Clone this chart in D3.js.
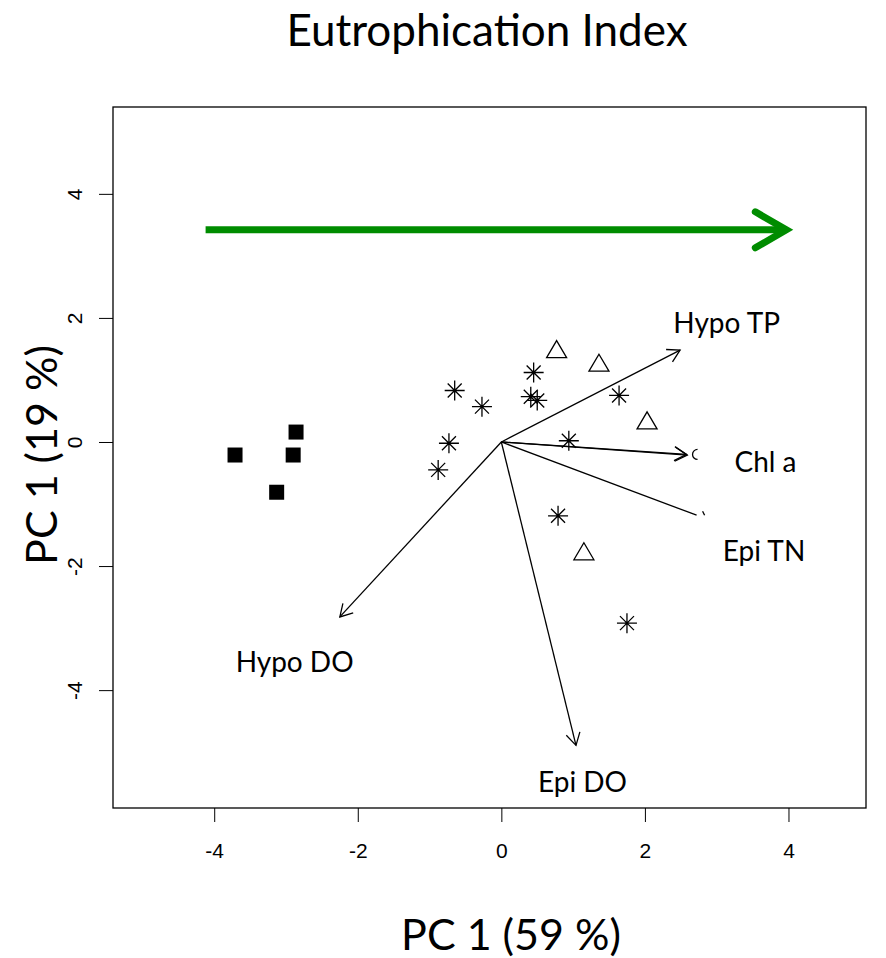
<!DOCTYPE html>
<html>
<head>
<meta charset="utf-8">
<script src="https://cdn.jsdelivr.net/npm/d3@7"></script>
<style>
  body { margin: 0; background: #fff; }
  svg { display: block; }
</style>
</head>
<body>
<div id="chart"></div>
<script>
// Site scores (PC1, PC2)
const squares = [[-3.71, -0.21], [-2.86, 0.16], [-2.90, -0.21], [-3.13, -0.81]];
const stars = [[-0.65, 0.83], [-0.27, 0.57], [0.45, 1.12], [0.41, 0.73], [0.50, 0.67],
               [1.64, 0.75], [-0.73, -0.02], [-0.88, -0.45], [0.94, 0.02], [0.79, -1.19], [1.75, -2.92]];
const triangles = [[0.77, 1.49], [1.36, 1.27], [2.03, 0.34], [1.15, -1.77]];

// Variable loadings (arrow tips) and where their labels sit
const loadingNames = ["Hypo TP", "Chl a", "Chl a", "Epi TN", "Epi DO", "Hypo DO"];
const loadingX = [2.49, 2.58, 2.59, 2.72, 1.04, -2.25];
const loadingY = [1.48, -0.20, -0.212, -1.18, -4.89, -2.82];
const loadingHead = [true, true, true, false, true, true];
const labelNames = ["Hypo TP", "Chl a", "Epi TN", "Epi DO", "Hypo DO"];
const labelX = [3.14, 3.68, 3.66, 1.13, -2.88];
const labelY = [1.94, -0.31, -1.74, -5.47, -3.53];

// gradient arrow across the top
const gradientFrom = [-4.12, 3.42];
const gradientTo = [3.97, 3.42];

const xTicks = [-4, -2, 0, 2, 4];
const yTicks = [-4, -2, 0, 2, 4];

const svgWidth = 886, svgHeight = 958;
const svg = d3.select("#chart").append("svg")
  .attr("width", svgWidth).attr("height", svgHeight);

// plot box
const box = {left: 113, right: 866, top: 107, bottom: 808};

const x = d3.scaleLinear().domain([-5.41, 5.08]).range([box.left, box.right]);
const y = d3.scaleLinear().domain([-5.90, 5.40]).range([box.bottom, box.top]);

const calib = "Lato, 'Open Sans', sans-serif";
const arial = "'Liberation Sans', Arial, sans-serif";

// title
svg.append("text")
  .attr("x", 487).attr("y", 46)
  .attr("text-anchor", "middle")
  .style("font-family", calib).style("font-size", "44px")
  .text("Eutrophication Index");

// axes
const xAxis = svg.append("g")
  .attr("transform", "translate(0," + box.bottom + ")")
  .call(d3.axisBottom(x).tickValues(xTicks).tickFormat(d => String(d))
    .tickSize(14).tickPadding(21).tickSizeOuter(0));
xAxis.select(".domain").remove();
xAxis.selectAll(".tick text")
  .attr("fill", "#000")
  .style("font-family", arial).style("font-size", "21px");

const yAxis = svg.append("g")
  .attr("transform", "translate(" + box.left + ",0)")
  .call(d3.axisLeft(y).tickValues(yTicks).tickFormat(d => String(d))
    .tickSize(14).tickSizeOuter(0));
yAxis.select(".domain").remove();
yAxis.selectAll(".tick text")
  .attr("x", null).attr("dy", null)
  .attr("transform", "translate(-39,0) rotate(-90)")
  .attr("text-anchor", "middle")
  .attr("dominant-baseline", "central")
  .attr("fill", "#000")
  .style("font-family", arial).style("font-size", "21px");

svg.append("rect")
  .attr("x", box.left).attr("y", box.top)
  .attr("width", box.right - box.left).attr("height", box.bottom - box.top)
  .attr("fill", "none").attr("stroke", "#000").attr("stroke-width", 1.3);

// axis titles
svg.append("text")
  .attr("x", 511).attr("y", 950)
  .attr("text-anchor", "middle")
  .style("font-family", calib).style("font-size", "43px")
  .text("PC 1 (59 %)");

svg.append("text")
  .attr("transform", "translate(57,455) rotate(-90)")
  .attr("text-anchor", "middle")
  .style("font-family", calib).style("font-size", "43px")
  .text("PC 1 (19 %)");

// green gradient arrow
const gx0 = x(gradientFrom[0]), gy0 = y(gradientFrom[1]);
const gx1 = x(gradientTo[0]), gy1 = y(gradientTo[1]);
svg.append("line")
  .attr("x1", gx0).attr("y1", gy0).attr("x2", gx1 - 6).attr("y2", gy1)
  .attr("stroke", "#008c00").attr("stroke-width", 7);
svg.append("path")
  .attr("d", `M${gx1 - 31},${gy1 - 18} L${gx1},${gy1} L${gx1 - 31},${gy1 + 18}`)
  .attr("fill", "none").attr("stroke", "#008c00").attr("stroke-width", 7)
  .attr("stroke-linecap", "round").attr("stroke-linejoin", "miter");

// loading arrows
const ox = x(0), oy = y(0);
const headLen = 14, headAng = Math.PI / 6;
loadingNames.forEach(function(name, i) {
  const tx = x(loadingX[i]), ty = y(loadingY[i]);
  svg.append("line")
    .attr("x1", ox).attr("y1", oy).attr("x2", tx).attr("y2", ty)
    .attr("stroke", "#000").attr("stroke-width", 1.3);
  if (loadingHead[i]) {
    const a = Math.atan2(ty - oy, tx - ox);
    const p1 = [tx - headLen * Math.cos(a - headAng), ty - headLen * Math.sin(a - headAng)];
    const p2 = [tx - headLen * Math.cos(a + headAng), ty - headLen * Math.sin(a + headAng)];
    svg.append("path")
      .attr("d", `M${p1[0]},${p1[1]} L${tx},${ty} L${p2[0]},${p2[1]}`)
      .attr("fill", "none").attr("stroke", "#000").attr("stroke-width", 1.3);
  }
});

// small leftover marks at the Chl a and Epi TN tips
const cx = x(loadingX[1]) + 8, cy = y(loadingY[1]);
svg.append("path")
  .attr("d", `M${cx + 3},${cy - 5} A5,5 0 1,0 ${cx + 3},${cy + 5}`)
  .attr("fill", "none").attr("stroke", "#000").attr("stroke-width", 1.3);
const ex = x(loadingX[3]) + 6, ey = y(loadingY[3]);
svg.append("line")
  .attr("x1", ex).attr("y1", ey - 4).attr("x2", ex + 2).attr("y2", ey)
  .attr("stroke", "#000").attr("stroke-width", 1.3);

// loading labels
labelNames.forEach(function(name, i) {
  svg.append("text")
    .attr("x", x(labelX[i])).attr("y", y(labelY[i]))
    .attr("text-anchor", "middle").attr("dominant-baseline", "central")
    .style("font-family", calib).style("font-size", "28px")
    .text(name);
});

// site points
svg.selectAll(".sq").data(squares).enter().append("rect")
  .attr("class", "sq")
  .attr("x", d => x(d[0]) - 7.5).attr("y", d => y(d[1]) - 7.5)
  .attr("width", 15).attr("height", 15).attr("fill", "#000");

const r = 10;
svg.selectAll(".star").data(stars).enter().append("path")
  .attr("class", "star")
  .attr("transform", d => "translate(" + x(d[0]) + "," + y(d[1]) + ")")
  .attr("d", `M${-r},0 L${r},0 M0,${-r} L0,${r} M${-r * 0.7},${-r * 0.7} L${r * 0.7},${r * 0.7} M${-r * 0.7},${r * 0.7} L${r * 0.7},${-r * 0.7}`)
  .attr("stroke", "#000").attr("stroke-width", 1.3).attr("fill", "none");

svg.selectAll(".tri").data(triangles).enter().append("path")
  .attr("class", "tri")
  .attr("transform", d => "translate(" + x(d[0]) + "," + y(d[1]) + ")")
  .attr("d", "M0,-9 L10,8 L-10,8 Z")
  .attr("stroke", "#000").attr("stroke-width", 1.3).attr("fill", "none");
</script>
</body>
</html>
